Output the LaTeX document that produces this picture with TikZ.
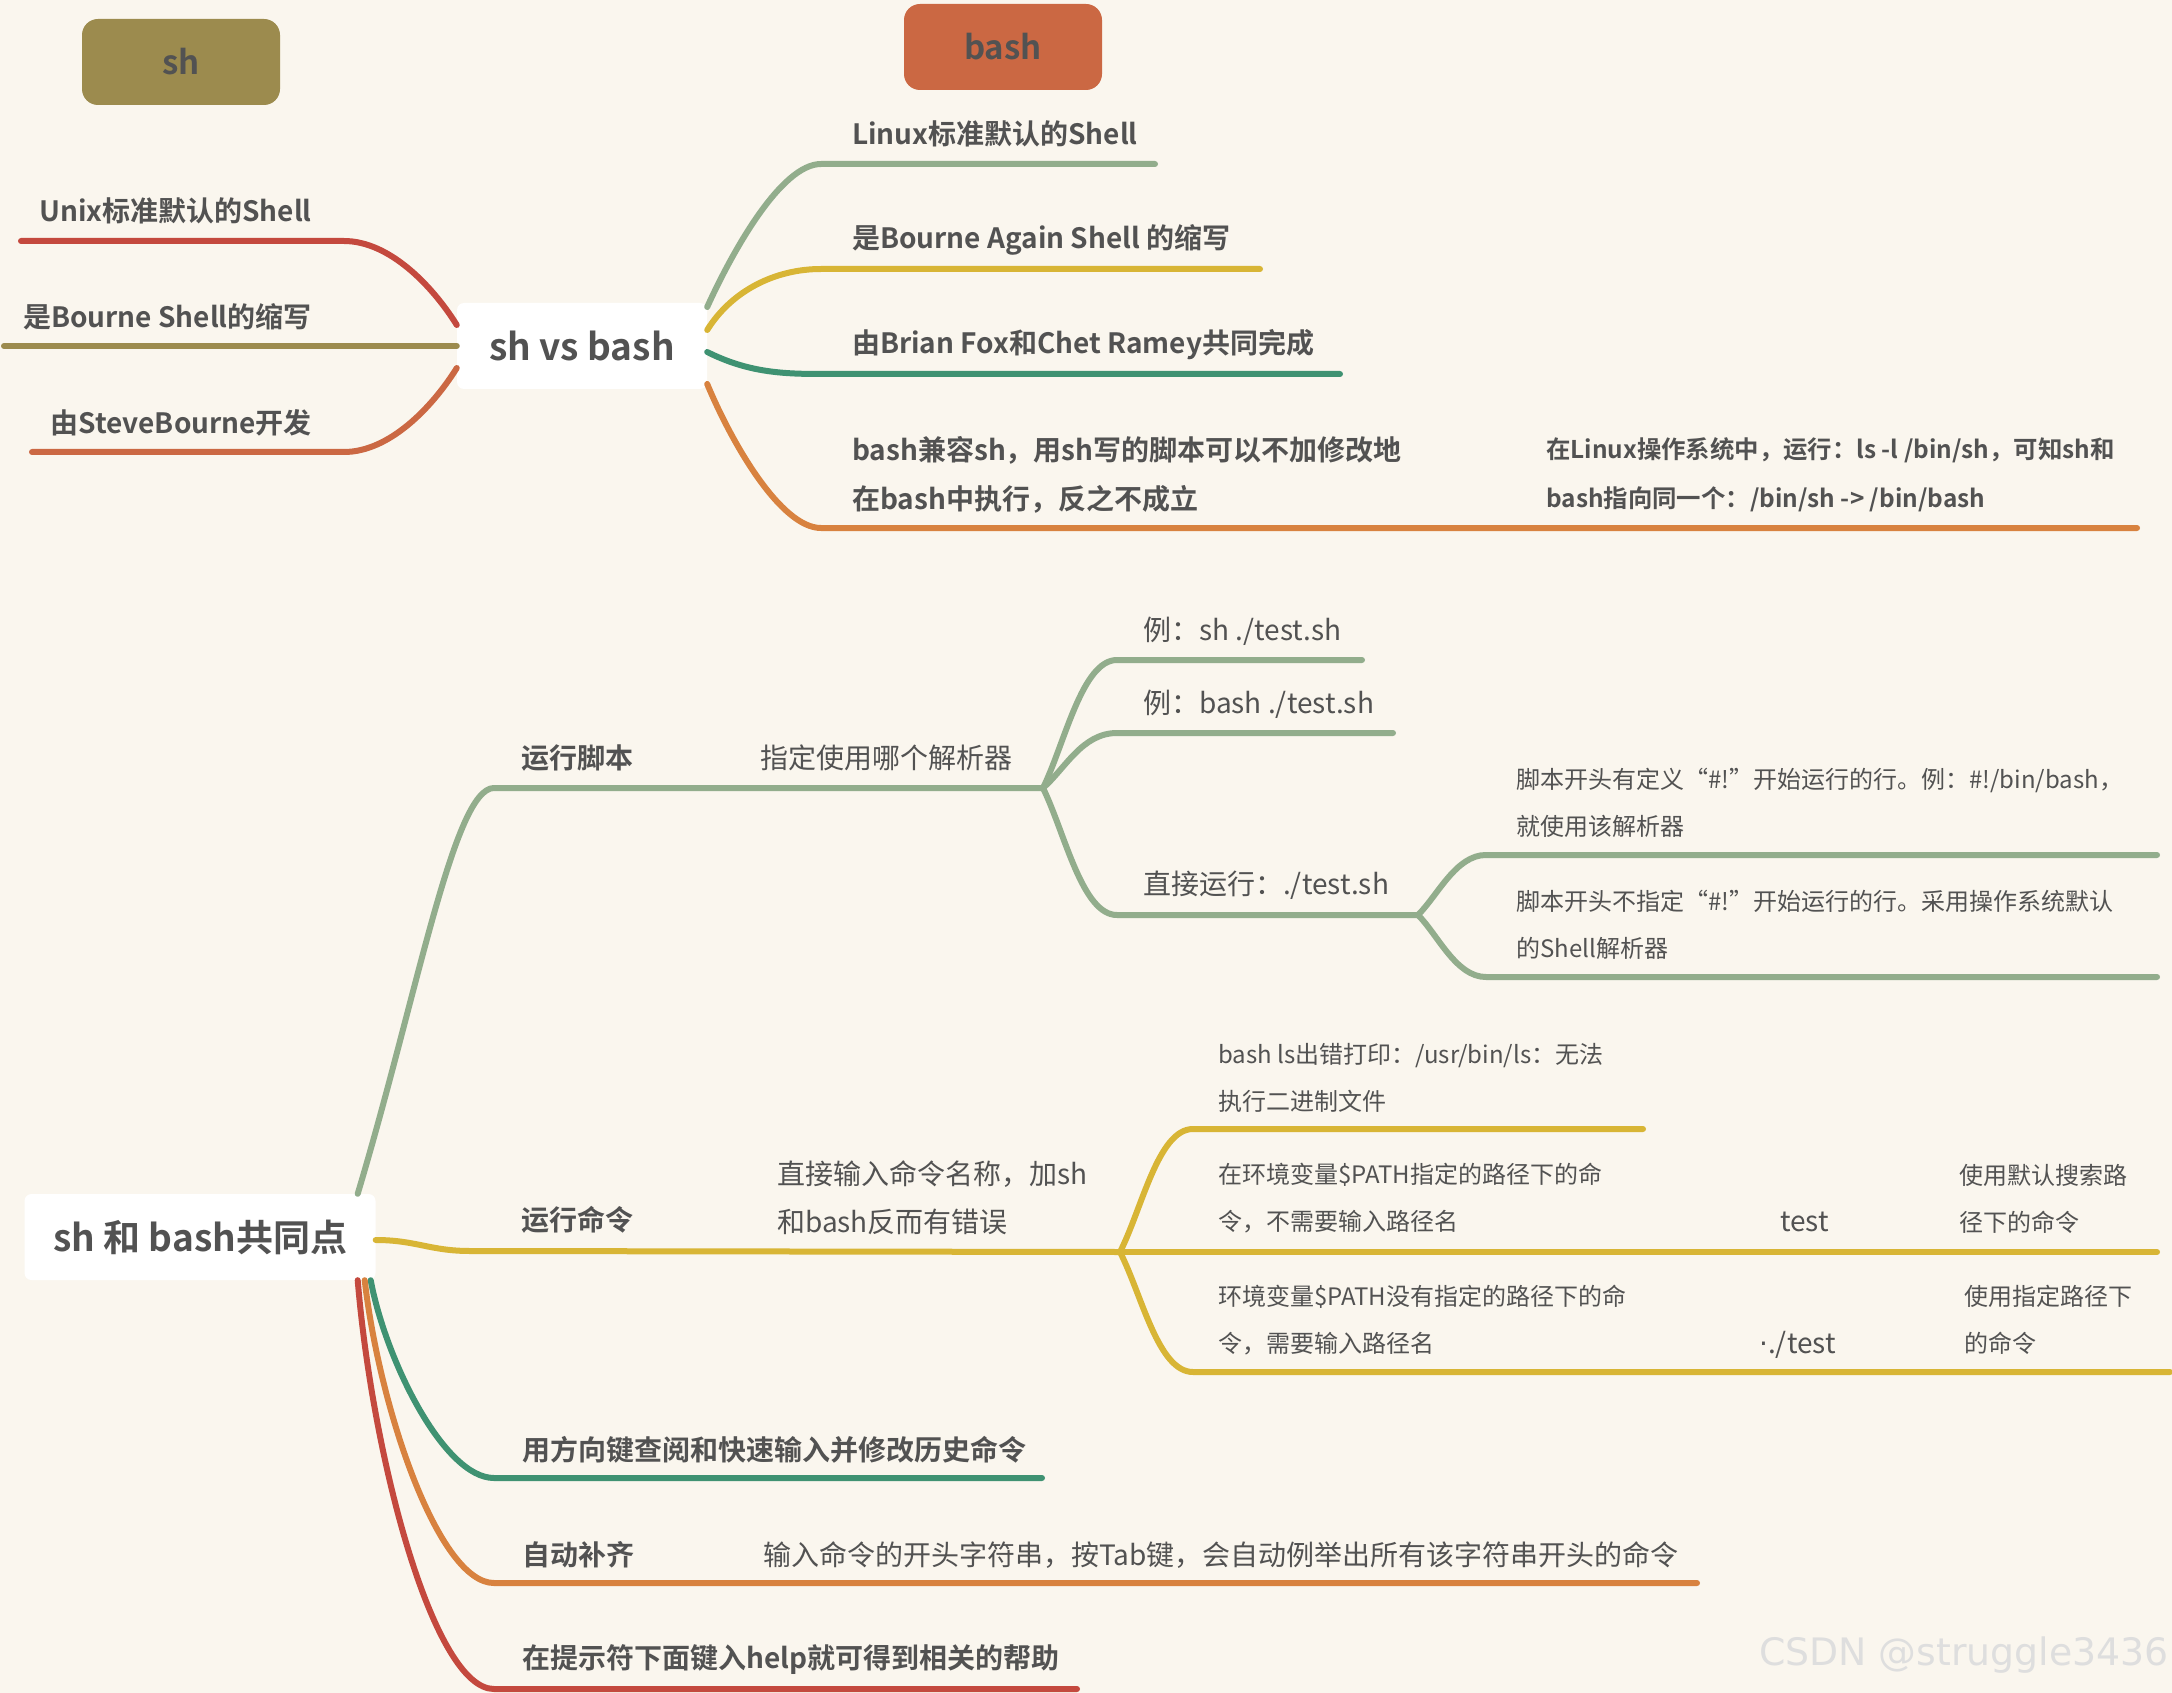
\documentclass[tikz,border=0pt]{standalone}
\usepackage{fontspec}
\setmainfont{Noto Sans CJK SC}[BoldFont={Noto Sans CJK SC Bold}]
\newfontfamily\markfont{DejaVu Sans}
\usetikzlibrary{positioning}

\definecolor{cPaper}{RGB}{250,246,238}
\definecolor{cInk}{RGB}{82,82,82}
\definecolor{cOlive}{RGB}{156,139,78}
\definecolor{cRust}{RGB}{203,104,67}
\definecolor{cSage}{RGB}{146,173,140}
\definecolor{cMustard}{RGB}{216,181,53}
\definecolor{cTeal}{RGB}{63,146,114}
\definecolor{cOrange}{RGB}{216,130,63}
\definecolor{cRed}{RGB}{196,73,62}
\definecolor{cMark}{RGB}{222,222,222}

\begin{document}
\begin{tikzpicture}[
    x=1pt, y=-1pt,
    branch/.style={line width=6pt, line cap=round},
    hub/.style={fill=white, rounded corners=7pt, minimum height=86pt, text=cInk,
        font=\fontsize{37}{44}\selectfont\bfseries},
    tag/.style={rounded corners=16pt, minimum width=198pt, minimum height=86pt, text=cInk,
        font=\fontsize{33}{40}\selectfont\bfseries},
    key/.style={anchor=west, inner sep=0pt, text=cInk, align=left,
        font=\fontsize{28}{49}\selectfont\bfseries},
    note/.style={anchor=west, inner sep=0pt, text=cInk, align=left,
        font=\fontsize{28}{48}\selectfont},
    detail/.style={anchor=west, inner sep=0pt, text=cInk, align=left,
        font=\fontsize{24}{47}\selectfont}
]
\fill[cPaper] (0,0) rectangle (2172,1693);
\useasboundingbox (0,0) rectangle (2172,1693);

% sh vs bash
\node[tag, fill=cOlive] (sh) at (181,62) {sh};
\node[tag, fill=cRust] (bash) at (1003,47) {bash};
\node[hub, minimum width=250pt] (vs) at (582,346) {sh vs bash};

\node[key, anchor=east] (unix) at (312,211) {Unix标准默认的Shell};
\node[key, anchor=east] (bourne) at (312,317) {是Bourne Shell的缩写};
\node[key, anchor=east] (steve) at (312,423) {由SteveBourne开发};

\node[key] (linux) at (852,134) {Linux标准默认的Shell};
\node[key] (again) at (852,240) {是Bourne Again Shell 的缩写};
\node[key] (fox) at (852,345) {由Brian Fox和Chet Ramey共同完成};
\node[key] (compat) at (852,475) {bash兼容sh，用sh写的脚本可以不加修改地\\在bash中执行，反之不成立};
\node[key, font=\fontsize{24.4}{49}\selectfont\bfseries] (lsl) at (1546,475)
    {在Linux操作系统中，运行：ls -l /bin/sh，可知sh和\\bash指向同一个：/bin/sh -> /bin/bash};

\coordinate (unixA) at (344,241);   \coordinate (unixB) at (21,241);
\coordinate (bourneB) at (4,346);
\coordinate (steveA) at (344,452);  \coordinate (steveB) at (32,452);
\coordinate (linuxA) at (821,164);  \coordinate (linuxB) at (1155,164);
\coordinate (againA) at (821,269);  \coordinate (againB) at (1260,269);
\coordinate (foxA) at (821,374);    \coordinate (foxB) at (1340,374);
\coordinate (compatA) at (821,528); \coordinate (compatB) at (2137,528);

\draw[branch, cRed] ([yshift=21pt]vs.west) .. controls +(-25,-40) and +(45,0) .. (unixA) -- (unixB);
\draw[branch, cOlive] (vs.west) -- (bourneB);
\draw[branch, cRust] ([yshift=-22pt]vs.west) .. controls +(-25,40) and +(45,0) .. (steveA) -- (steveB);
\draw[branch, cSage] ([yshift=39pt]vs.east) .. controls +(25,-55) and +(-40,0) .. (linuxA) -- (linuxB);
\draw[branch, cMustard] ([yshift=16pt]vs.east) .. controls +(25,-40) and +(-45,0) .. (againA) -- (againB);
\draw[branch, cTeal] ([yshift=-6pt]vs.east) .. controls +(40,20) and +(-40,0) .. (foxA) -- (foxB);
\draw[branch, cOrange] ([yshift=-38pt]vs.east) .. controls +(25,60) and +(-40,0) .. (compatA) -- (compatB);

% sh 和 bash 共同点
\node[hub, minimum width=351pt] (common) at (200,1237) {sh 和 bash共同点};

\node[key] (script) at (521,758) {运行脚本};
\node[note] (which) at (760,758) {指定使用哪个解析器};
\node[note] (exsh) at (1143,631) {例：sh ./test.sh};
\node[note] (exbash) at (1143,704) {例：bash ./test.sh};
\node[note] (direct) at (1143,885) {直接运行：./test.sh};
\node[detail] (shebang) at (1516,803) {脚本开头有定义“\#!”开始运行的行。例：\#!/bin/bash，\\就使用该解析器};
\node[detail] (noshebang) at (1516,925) {脚本开头不指定“\#!”开始运行的行。采用操作系统默认\\的Shell解析器};

\node[key] (cmd) at (521,1220) {运行命令};
\node[note] (plain) at (777,1198) {直接输入命令名称，加sh\\和bash反而有错误};
\node[detail] (lserr) at (1218,1078) {bash ls出错打印：/usr/bin/ls：无法\\执行二进制文件};
\node[detail] (inpath) at (1218,1198) {在环境变量\$PATH指定的路径下的命\\令，不需要输入路径名};
\node[note] (test) at (1780,1222) {test};
\node[detail] (search) at (1959,1199) {使用默认搜索路\\径下的命令};
\node[detail] (outpath) at (1218,1320) {环境变量\$PATH没有指定的路径下的命\\令，需要输入路径名};
\node[note] (dottest) at (1759,1345) {{\markfont ·}./test};
\node[detail] (given) at (1964,1320) {使用指定路径下\\的命令};

\node[key] (history) at (522,1450) {用方向键查阅和快速输入并修改历史命令};
\node[key] (complete) at (522,1555) {自动补齐};
\node[note] (tab) at (763,1555) {输入命令的开头字符串，按Tab键，会自动例举出所有该字符串开头的命令};
\node[key] (help) at (522,1660) {在提示符下面键入help就可得到相关的帮助};

\coordinate (scriptA) at (494,788);   \coordinate (scriptF) at (1043,788);
\coordinate (exshA) at (1117,660);    \coordinate (exshB) at (1362,660);
\coordinate (exbashA) at (1117,733);  \coordinate (exbashB) at (1393,733);
\coordinate (directA) at (1117,915);  \coordinate (directF) at (1418,915);
\coordinate (shebangA) at (1486,855); \coordinate (shebangB) at (2157,855);
\coordinate (noshA) at (1486,977);    \coordinate (noshB) at (2157,977);
\coordinate (cmdA) at (470,1251);     \coordinate (cmdF) at (1120,1252);
\coordinate (lserrA) at (1193,1129);  \coordinate (lserrB) at (1643,1129);
\coordinate (inpathB) at (2157,1252);
\coordinate (outA) at (1193,1372);    \coordinate (outB) at (2170,1372);
\coordinate (historyA) at (494,1478); \coordinate (historyB) at (1042,1478);
\coordinate (completeA) at (494,1583);\coordinate (completeB) at (1697,1583);
\coordinate (helpA) at (494,1689);    \coordinate (helpB) at (1077,1689);

\draw[branch, cSage] ([xshift=-18pt]common.north east) .. controls +(60,-200) and +(-40,0) .. (scriptA) -- (scriptF);
\draw[branch, cSage] (scriptF) .. controls +(22,-45) and +(-35,0) .. (exshA) -- (exshB);
\draw[branch, cSage] (scriptF) .. controls +(22,-19) and +(-35,0) .. (exbashA) -- (exbashB);
\draw[branch, cSage] (scriptF) .. controls +(22,45) and +(-35,0) .. (directA) -- (directF);
\draw[branch, cSage] (directF) .. controls +(20,-20) and +(-30,0) .. (shebangA) -- (shebangB);
\draw[branch, cSage] (directF) .. controls +(20,20) and +(-30,0) .. (noshA) -- (noshB);

\draw[branch, cMustard] ([yshift=-3pt]common.east) .. controls +(40,0) and +(-40,0) .. (cmdA) -- (cmdF);
\draw[branch, cMustard] (cmdF) .. controls +(22,-43) and +(-35,0) .. (lserrA) -- (lserrB);
\draw[branch, cMustard] (cmdF) -- (inpathB);
\draw[branch, cMustard] (cmdF) .. controls +(22,43) and +(-35,0) .. (outA) -- (outB);

\draw[branch, cTeal] ([xshift=-5pt]common.south east) .. controls +(15,80) and +(-50,0) .. (historyA) -- (historyB);
\draw[branch, cOrange] ([xshift=-11pt]common.south east) .. controls +(15,130) and +(-55,0) .. (completeA) -- (completeB);
\draw[branch, cRed] ([xshift=-18pt]common.south east) .. controls +(15,180) and +(-60,0) .. (helpA) -- (helpB);

\node[anchor=west, inner sep=0pt, text=cMark, font=\markfont\fontsize{37.8}{44}\selectfont] (mark) at (1759,1655) {CSDN @struggle3436};
\end{tikzpicture}
\end{document}
